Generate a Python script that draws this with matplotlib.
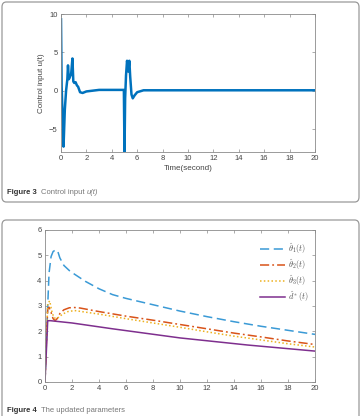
import matplotlib
matplotlib.use("Agg")
import matplotlib.pyplot as plt
from matplotlib.patches import FancyBboxPatch
import numpy as np

plt.rcParams['font.family'] = ['Liberation Sans', 'DejaVu Sans']
plt.rcParams['mathtext.fontset'] = 'cm'

# ---- Figure 3 data: control input u(t)
u_t = [0, 0.05, 0.12, 0.2, 0.3, 0.4, 0.5, 0.55, 0.62, 0.7, 0.8, 0.9, 0.97, 1.05, 1.15, 1.25, 1.35,
       1.5, 1.7, 2.0, 2.5, 3.0, 4.0, 4.95, 5.0, 5.05, 5.12, 5.2, 5.3, 5.38, 5.45, 5.55, 5.65,
       5.8, 6.0, 6.5, 7.0, 10.0, 20.0]
u_v = [9.3, 0.5, -3.0, -7.3, -2.5, 0.0, 1.5, 3.3, 1.5, 1.8, 2.2, 4.2, 1.2, 1.0, 1.1, 0.7, 0.5,
       -0.2, -0.3, -0.1, 0.0, 0.1, 0.1, 0.1, -8.2, -1.0, 2.0, 3.9, 2.5, 3.9, 1.8, -0.5, -1.0,
       -0.6, -0.2, 0.05, 0.05, 0.05, 0.05]

# ---- Figure 4 data: updated parameters
t1 = [0, 0.1, 0.2, 0.3, 0.45, 0.6, 0.8, 0.95, 1.1, 1.4, 1.8, 2.2, 3, 4, 5, 6, 8, 10, 12, 14, 16, 18, 20]
th1 = [0, 1.5, 3.0, 4.3, 4.95, 5.15, 5.22, 5.15, 4.9, 4.6, 4.4, 4.25, 3.97, 3.68, 3.45, 3.3, 3.05, 2.8, 2.58, 2.38, 2.2, 2.04, 1.88]
t2 = [0, 0.1, 0.2, 0.3, 0.45, 0.6, 0.75, 0.9, 1.1, 1.4, 1.8, 2.2, 2.6, 4, 6, 8, 10, 12, 14, 16, 18, 20]
th2 = [0, 1.5, 2.9, 2.95, 2.75, 2.5, 2.42, 2.5, 2.7, 2.85, 2.93, 2.94, 2.92, 2.78, 2.6, 2.44, 2.27, 2.1, 1.93, 1.78, 1.62, 1.48]
t3 = [0, 0.1, 0.2, 0.35, 0.5, 0.65, 0.8, 1.0, 1.3, 1.7, 2.2, 4, 6, 8, 10, 12, 14, 16, 18, 20]
th3 = [0, 1.6, 3.1, 3.2, 2.8, 2.55, 2.5, 2.55, 2.68, 2.78, 2.82, 2.68, 2.5, 2.33, 2.16, 1.98, 1.81, 1.66, 1.51, 1.38]
t4 = [0, 0.2, 0.4, 2, 5, 10, 15, 20]
d4 = [0, 2.42, 2.42, 2.33, 2.1, 1.74, 1.46, 1.22]
legend_labels = [r'$\hat{\theta}_1(t)$', r'$\hat{\theta}_2(t)$', r'$\hat{\theta}_3(t)$', r'$\hat{d}^*(t)$']

fig = plt.figure(figsize=(3.61, 4.16), dpi=100)

# frames
W, H = 361, 416
def frame(x0, y0, x1, y1):
    p = FancyBboxPatch((x0 / W, 1 - y1 / H), (x1 - x0) / W, (y1 - y0) / H,
                       boxstyle="round,pad=0,rounding_size=0.012", transform=fig.transFigure,
                       facecolor='white', edgecolor='#9a9a9a', linewidth=0.9, zorder=-10)
    fig.patches.append(p)
frame(2, 2, 359, 202)
frame(2, 220, 359, 430)

axcol = '#444444'
def style(ax):
    for s in ax.spines.values():
        s.set_color('#8a8a8a')
        s.set_linewidth(0.6)
    ax.tick_params(direction='in', length=2.5, width=0.5, colors='#8a8a8a', labelcolor=axcol,
                   labelsize=5.5, top=True, right=True, pad=2.5)

ax1 = fig.add_axes([61 / W, 1 - 152 / H, 254 / W, 138 / H])
ax1.plot(u_t, u_v, color='#0072BD', linewidth=1.8)
ax1.set_xlim(0, 20)
ax1.set_ylim(-8, 10)
ax1.set_xticks(range(0, 21, 2))
ax1.set_yticks([-5, 0, 5, 10])
style(ax1)
ax1.set_xlabel('Time(second)', fontsize=5.8, color=axcol, labelpad=2)
ax1.set_ylabel('Control input u(t)', fontsize=5.8, color=axcol, labelpad=3)

ax2 = fig.add_axes([45 / W, 1 - 382 / H, 270 / W, 152 / H])
ax2.plot(t1, th1, color='#3A9AD6', linestyle=(0, (6, 3)), linewidth=1.1, label=legend_labels[0])
ax2.plot(t2, th2, color='#D95319', linestyle=(0, (6, 2, 1.2, 2)), linewidth=1.1, label=legend_labels[1])
ax2.plot(t3, th3, color='#EDB120', linestyle=(0, (1, 1.5)), linewidth=1.1, label=legend_labels[2])
ax2.plot(t4, d4, color='#7E2F8E', linestyle='-', linewidth=1.1, label=legend_labels[3])
ax2.set_xlim(0, 20)
ax2.set_ylim(0, 6)
ax2.set_xticks(range(0, 21, 2))
ax2.set_yticks(range(0, 7))
style(ax2)
leg = ax2.legend(loc='upper right', bbox_to_anchor=(0.995, 0.96), frameon=False, fontsize=6,
                 handlelength=3.0, handletextpad=0.3, labelspacing=0.2, borderaxespad=0.2)
for txt in leg.get_texts():
    txt.set_color('#555555')

# captions
def caption(y, bold, parts):
    r = fig.canvas.get_renderer()
    t = fig.text(7 / W, 1 - y / H, bold, fontsize=5.5, fontweight='bold', color='#333333', va='center')
    bb = t.get_window_extent(renderer=r)
    x = bb.x1 + 4
    for s, style_ in parts:
        tt = fig.text(x / W, 1 - y / H, s, fontsize=5.5, color='#777777', va='center', fontstyle=style_)
        x = tt.get_window_extent(renderer=r).x1

caption(193, 'Figure 3', [('Control input ', 'normal'), ('u(t)', 'italic')])
caption(411, 'Figure 4', [('The updated parameters', 'normal')])

fig.savefig('out.png', dpi=100)
